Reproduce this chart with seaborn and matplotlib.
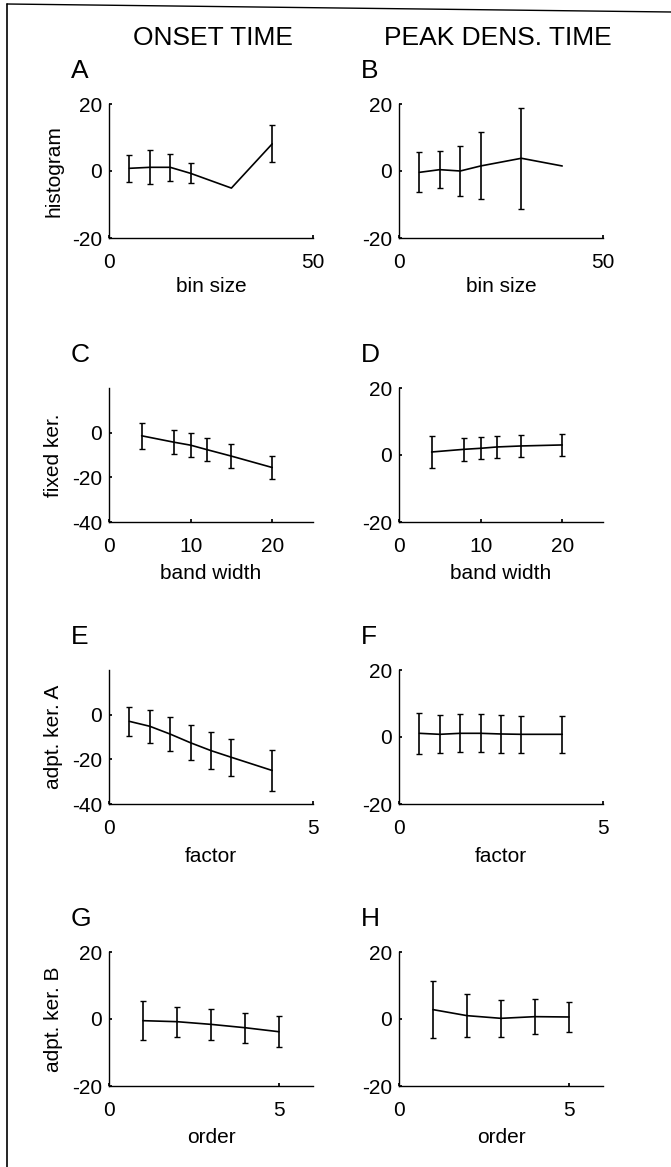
import numpy as np
import pandas as pd
import matplotlib
matplotlib.use("Agg")
import matplotlib.pyplot as plt
import seaborn as sns
from matplotlib.lines import Line2D

nan = np.nan

# panel data (mean and +/- error)
A_x = [5, 10, 15, 20, 30, 40]
A_y = [0.8, 1.1, 1.1, -0.7, -5.1, 8.1]
A_e = [4.1, 5.1, 4.0, 3.0, nan, 5.5]

B_x = [5, 10, 15, 20, 30, 40]
B_y = [-0.4, 0.4, 0.0, 1.5, 3.8, 1.5]
B_e = [6.0, 5.5, 7.5, 10.0, 15.0, nan]

C_x = [4, 8, 10, 12, 15, 20]
C_y = [-1.4, -4.3, -5.6, -7.6, -10.5, -15.6]
C_e = [5.7, 5.3, 5.3, 5.1, 5.5, 5.2]

D_x = [4, 8, 10, 12, 15, 20]
D_y = [0.9, 1.7, 2.0, 2.4, 2.7, 3.0]
D_e = [4.9, 3.5, 3.3, 3.2, 3.3, 3.3]

E_x = [0.5, 1, 1.5, 2, 2.5, 3, 4]
E_y = [-3.0, -5.2, -8.7, -12.6, -16.1, -19.1, -25.0]
E_e = [6.5, 7.4, 7.5, 7.9, 8.2, 8.4, 9.0]

F_x = [0.5, 1, 1.5, 2, 2.5, 3, 4]
F_y = [1.1, 0.8, 1.1, 1.1, 0.9, 0.8, 0.8]
F_e = [6.1, 5.7, 5.7, 5.7, 5.6, 5.5, 5.6]

G_x = [1, 2, 3, 4, 5]
G_y = [-0.5, -0.8, -1.6, -2.6, -3.8]
G_e = [5.9, 4.5, 4.6, 4.5, 4.6]

H_x = [1, 2, 3, 4, 5]
H_y = [2.8, 1.0, 0.2, 0.7, 0.6]
H_e = [8.5, 6.4, 5.5, 5.3, 4.6]

col_titles = ["ONSET TIME", "PEAK DENS. TIME"]
row_ylabels = ["histogram", "fixed ker.", "adpt. ker. A", "adpt. ker. B"]
row_xlabels = ["bin size", "band width", "factor", "order"]

sns.set_theme(style="ticks")
plt.rcParams['font.family'] = ['Liberation Sans', 'DejaVu Sans']
plt.rcParams['axes.unicode_minus'] = False
plt.rcParams['text.color'] = 'black'
plt.rcParams['axes.labelcolor'] = 'black'
plt.rcParams['xtick.color'] = 'black'
plt.rcParams['ytick.color'] = 'black'

fig = plt.figure(figsize=(6.71, 11.67), dpi=100)
W, H = 671, 1167

panels = [
    # letter, x, y, err, xlim, xticks, ylim, yticks, row, col
    ("A", A_x, A_y, A_e, (0, 50), [0, 50], (-20, 20), [-20, 0, 20], 0, 0),
    ("B", B_x, B_y, B_e, (0, 50), [0, 50], (-20, 20), [-20, 0, 20], 0, 1),
    ("C", C_x, C_y, C_e, (0, 25), [0, 10, 20], (-40, 20), [-40, -20, 0], 1, 0),
    ("D", D_x, D_y, D_e, (0, 25), [0, 10, 20], (-20, 20), [-20, 0, 20], 1, 1),
    ("E", E_x, E_y, E_e, (0, 5), [0, 5], (-40, 20), [-40, -20, 0], 2, 0),
    ("F", F_x, F_y, F_e, (0, 5), [0, 5], (-20, 20), [-20, 0, 20], 2, 1),
    ("G", G_x, G_y, G_e, (0, 6), [0, 5], (-20, 20), [-20, 0, 20], 3, 0),
    ("H", H_x, H_y, H_e, (0, 6), [0, 5], (-20, 20), [-20, 0, 20], 3, 1),
]

lefts = [109, 399]
tops = [104, 388, 670, 952]
aw, ah = 204, 134
xlab_y = [-0.29, -0.31, -0.32, -0.31]

for letter, xs, ys, es, xlim, xt, ylim, yt, r, c in panels:
    ax = fig.add_axes([lefts[c] / W, 1 - (tops[r] + ah) / H, aw / W, ah / H])
    df = pd.DataFrame({"x": xs, "y": ys, "e": es})
    sns.lineplot(data=df, x="x", y="y", ax=ax, color="black", linewidth=1.2)
    ax.errorbar(df["x"], df["y"], yerr=df["e"], fmt="none", ecolor="black",
                elinewidth=1.2, capsize=2.5, capthick=1.0)
    ax.set_xlim(*xlim)
    ax.set_ylim(*ylim)
    ax.set_xticks(xt)
    ax.set_yticks(yt)
    ax.tick_params(axis="x", direction="in", length=2, pad=11, labelsize=15)
    ax.tick_params(axis="y", direction="in", length=2, pad=5, labelsize=15)
    sns.despine(ax=ax)
    for s in ("left", "bottom"):
        ax.spines[s].set_linewidth(1.0)
        ax.spines[s].set_color("black")
    ax.set_xlabel(row_xlabels[r], fontsize=15)
    ax.xaxis.set_label_coords(0.5, xlab_y[r])
    if c == 0:
        ax.set_ylabel(row_ylabels[r], fontsize=15)
        ax.yaxis.set_label_coords(-0.225, 0.5)
    else:
        ax.set_ylabel("")
    ax.text(-38 / aw, 1 + 21 / ah, letter, transform=ax.transAxes,
            fontsize=19, ha="left", va="bottom")

fig.text(213 / W, 1 - 38 / H, col_titles[0], fontsize=19, ha="center", va="center")
fig.text(498 / W, 1 - 38 / H, col_titles[1], fontsize=19, ha="center", va="center")

# scanned page frame (left and top edges)
fig.add_artist(Line2D([7 / W, 7 / W], [0, 1 - 4 / H], transform=fig.transFigure,
                      color="black", linewidth=1.2))
fig.add_artist(Line2D([7 / W, 1], [1 - 4 / H, 1 - 12 / H], transform=fig.transFigure,
                      color="black", linewidth=1.0))

fig.savefig("out.png", dpi=100, facecolor="white")
